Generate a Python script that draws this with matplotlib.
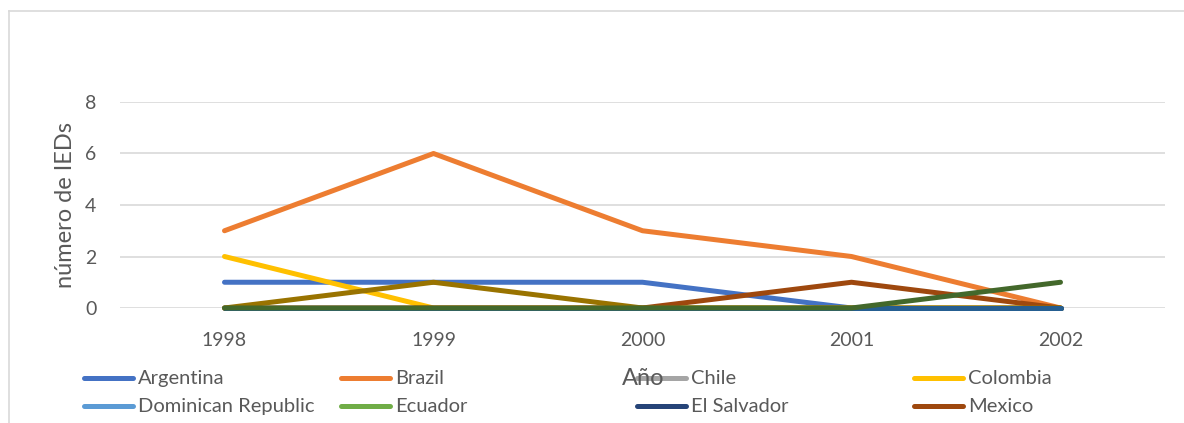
import matplotlib.pyplot as plt
from matplotlib.lines import Line2D

years = ["1998", "1999", "2000", "2001", "2002"]

# series shown in the legend
argentina = [1, 1, 1, 0, 0]
brazil = [3, 6, 3, 2, 0]
chile = [0, 0, 0, 0, 0]
colombia = [2, 0, 0, 0, 0]
dominican_republic = [0, 0, 0, 0, 0]
ecuador = [0, 0, 0, 0, 0]
el_salvador = [0, 0, 0, 0, 0]
mexico = [0, 0, 0, 1, 0]
# further series drawn but cut off from the legend
series_9 = [0, 0, 0, 0, 0]
series_10 = [0, 1, 0, 0, 0]
series_11 = [0, 0, 0, 0, 0]
series_12 = [0, 0, 0, 0, 1]

series = [
    ("Argentina", argentina, "#4472C4"),
    ("Brazil", brazil, "#ED7D31"),
    ("Chile", chile, "#A5A5A5"),
    ("Colombia", colombia, "#FFC000"),
    ("Dominican Republic", dominican_republic, "#5B9BD5"),
    ("Ecuador", ecuador, "#70AD47"),
    ("El Salvador", el_salvador, "#264478"),
    ("Mexico", mexico, "#9E480E"),
    ("Serie 9", series_9, "#636363"),
    ("Serie 10", series_10, "#997300"),
    ("Serie 11", series_11, "#255E91"),
    ("Serie 12", series_12, "#43682B"),
]
legend_count = 8

TEXT = "#595959"
plt.rcParams["font.family"] = ["Lato", "DejaVu Sans"]

W, H = 1184, 423
fig = plt.figure(figsize=(W / 100, H / 100), dpi=100)


def fx(px):
    return px / W


def fy(py):
    return 1 - py / H


ax = fig.add_axes([fx(120), fy(308), fx(1165) - fx(120), fy(102) - fy(308)])
x = range(len(years))
for name, vals, color in series:
    ax.plot(x, vals, color=color, linewidth=3.6, solid_capstyle="round",
            solid_joinstyle="round", clip_on=False)

ax.set_xlim(-0.5, len(years) - 0.5)
ax.set_ylim(0, 8)
ax.set_yticks([0, 2, 4, 6, 8])
ax.set_xticks(list(x))
ax.set_xticklabels(years)
ax.grid(axis="y", color="#D9D9D9", linewidth=1.2)
ax.set_axisbelow(True)
for s in ax.spines.values():
    s.set_visible(False)
ax.tick_params(length=0, colors=TEXT, labelsize=14)
ax.tick_params(axis="x", pad=17)
ax.tick_params(axis="y", pad=17)

fig.text(fx(65), fy(205), "número de IEDs", rotation=90, ha="center",
         va="center", color=TEXT, fontsize=17)
fig.text(fx(643), fy(378), "Año", ha="center", va="center", color=TEXT,
         fontsize=17)

# chart-area border (left and top edges only are visible)
fig.add_artist(Line2D([fx(9), fx(9)], [fy(11), 0], color="#D9D9D9",
                      linewidth=1.2, transform=fig.transFigure))
fig.add_artist(Line2D([fx(9), 1], [fy(11), fy(11)], color="#D9D9D9",
                      linewidth=1.2, transform=fig.transFigure))

# legend laid out as Excel does: 4 columns, 2 rows
col_x = [82, 339, 635, 912]
row_y = [378, 406]
for i, (name, vals, color) in enumerate(series[:legend_count]):
    cx = col_x[i % 4]
    cy = row_y[i // 4]
    fig.add_artist(Line2D([fx(cx + 2), fx(cx + 51)], [fy(cy), fy(cy)],
                          color=color, linewidth=3.6, solid_capstyle="round",
                          transform=fig.transFigure))
    fig.text(fx(cx + 56), fy(cy), name, ha="left", va="center", color=TEXT,
             fontsize=14.5)

fig.savefig("out.png", dpi=100)
